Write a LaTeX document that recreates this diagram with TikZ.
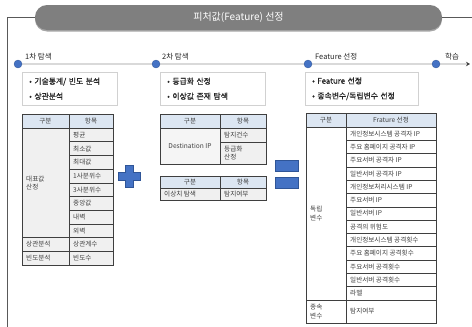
\documentclass[tikz,border=0pt]{standalone}
\usepackage{fontspec}
\setmainfont{Noto Sans CJK KR}
\newfontfamily\medfont[FakeBold=0.6]{Noto Sans CJK KR}
\usetikzlibrary{shadows,arrows.meta}
\definecolor{hdr}{HTML}{DCE6F2}
\definecolor{cellg}{HTML}{F0F0F0}
\definecolor{celll}{HTML}{F5F5F5}
\definecolor{bord}{HTML}{3F3F3F}
\definecolor{txt}{HTML}{404040}
\definecolor{blu}{HTML}{4472C4}
\definecolor{blud}{HTML}{2F5597}
\definecolor{bann}{HTML}{7F7F7F}
\definecolor{tline}{HTML}{D9D9D9}
\definecolor{framec}{HTML}{595959}
\tikzset{
  tcellbox/.style={draw=bord, line width=0.6pt},
  ctxt/.style={font=\fontsize{6.6}{8.2}\selectfont, text=txt, inner sep=0pt, align=left},
  bbox/.style={draw=black!18, fill=white, line width=0.4pt,
    drop shadow={shadow xshift=1.2pt, shadow yshift=-1.2pt, opacity=0.25, fill=black},
    anchor=north west, inner xsep=7pt, inner ysep=0pt, align=left,
    font=\medfont\fontsize{7.8}{15}\selectfont, text=black!85, minimum height=33pt},
  tlabel/.style={font=\fontsize{7.5}{9}\selectfont, text=black!85, anchor=west, inner sep=0pt},
  tdot/.style={circle, fill=blu, draw=blud, line width=0.3pt, minimum size=8pt, inner sep=0pt},
  tl/.style={draw=tline, line width=2pt},
  banner/.style={rounded corners=12pt, fill=bann, text=white, minimum width=407pt,
    minimum height=25pt, font=\fontsize{10}{12}\selectfont,
    drop shadow={shadow xshift=0pt, shadow yshift=-1.5pt, opacity=0.35, fill=black}},
  opbox/.style={fill=blu, draw=blud, line width=0.4pt, inner sep=0pt},
}
\newcommand\TC[7]{%
  \path[tcellbox, fill=#6] (#2,#3) rectangle (#4,#5);
  \node[ctxt, anchor=west] (#1) at ({#2+4},{(#3+#5)/2}) {#7};}
\newcommand\CC[7]{%
  \path[tcellbox, fill=#6] (#2,#3) rectangle (#4,#5);
  \node[ctxt, align=center] (#1) at ({(#2+#4)/2},{(#3+#5)/2}) {#7};}
\begin{document}
\begin{tikzpicture}[x=1pt,y=-1pt]
\useasboundingbox (0,0) rectangle (472,327);
% frame + banner
\node[banner] (ban) at (238.5,17.5) {피처값(Feature) 선정};
\coordinate (fl) at (7,17.5);
\coordinate (fb) at (7,327);
\coordinate (fr) at (472,17.5);
\draw[framec, line width=0.8pt] (ban.west) -- (fl) -- (fb);
\draw[framec, line width=0.8pt] (ban.east) -- (fr);
% timeline
\coordinate (tend) at (470,64);
\coordinate (d1) at (18,64);
\coordinate (d2) at (156,64);
\coordinate (d3) at (308,64);
\coordinate (d4) at (436,64);
\draw[tl] (d1) -- (d2);
\draw[tl] (d2) -- (d3);
\draw[tl] (d3) -- (d4);
\draw[tl, -{Stealth[length=4pt,width=4.5pt,color=black!75]}] (d4) -- (tend);
\node[tdot] (n1) at (d1) {};
\node[tdot] (n2) at (d2) {};
\node[tdot] (n3) at (d3) {};
\node[tdot] (n4) at (d4) {};
\node[tlabel] (l1) at (25,57) {1차 탐색};
\node[tlabel] (l2) at (162,57) {2차 탐색};
\node[tlabel] (l3) at (315,57) {Feature 선정};
\node[tlabel] (l4) at (445,56.5) {학습};
% bullet boxes
\node[bbox, minimum width=95pt, text width=81pt] (b1) at (22,72) {• 기술통계/ 빈도 분석\\• 상관분석};
\node[bbox, minimum width=105pt, text width=91pt] (b2) at (160,72) {• 등급화 산정\\• 이상값 존재 탐색};
\node[bbox, minimum width=113pt, text width=99pt] (b3) at (305,72) {• Feature 선정\\• 종속변수/독립변수 선정};
% table 1
\CC{t1h1}{22}{114}{69}{128}{hdr}{구분}
\CC{t1h2}{69}{114}{113}{128}{hdr}{항목}
\TC{t1a}{22}{128}{69}{237.6}{cellg}{대표값\\산정}
\TC{t1b}{22}{237.6}{69}{251.3}{cellg}{상관분석}
\TC{t1c}{22}{251.3}{69}{265}{cellg}{빈도분석}
\foreach \t [count=\i] in {평균,최소값,최대값,1사분위수,3사분위수,중앙값,내벽,외벽,상관계수,빈도수}{%
  \pgfmathsetmacro\ya{128+(\i-1)*13.7}%
  \pgfmathsetmacro\yb{128+\i*13.7}%
  \TC{t1r\i}{69}{\ya}{113}{\yb}{cellg}{\t}}
% plus
\fill[blu, draw=blud, line width=0.4pt]
  (125,165) -- (133,165) -- (133,172) -- (140,172) -- (140,180) -- (133,180)
  -- (133,187) -- (125,187) -- (125,180) -- (118,180) -- (118,172) -- (125,172) -- cycle;
% table 2
\CC{t2h1}{160}{114}{220}{128}{hdr}{구분}
\CC{t2h2}{220}{114}{266}{128}{hdr}{항목}
\CC{t2a}{160}{128}{220}{164}{celll}{Destination IP}
\TC{t2b}{220}{128}{266}{142}{cellg}{탐지건수}
\TC{t2c}{220}{142}{266}{164}{cellg}{등급화\\산정}
% table 3
\CC{t3h1}{160}{176}{220}{188}{hdr}{구분}
\CC{t3h2}{220}{176}{266}{188}{hdr}{항목}
\TC{t3a}{160}{188}{220}{200}{cellg}{이상치 탐색}
\TC{t3b}{220}{188}{266}{200}{cellg}{탐지여부}
% equals
\node[opbox, minimum width=23pt, minimum height=10.5pt] (eq1) at (287,165.5) {};
\node[opbox, minimum width=23pt, minimum height=10.5pt] (eq2) at (287,182.5) {};
% table 4
\CC{t4h1}{306}{113}{346}{127}{hdr}{구분}
\CC{t4h2}{346}{113}{436}{127}{hdr}{Frature 선정}
\TC{t4a}{306}{127}{346}{300}{white}{독립\\변수}
\TC{t4b}{306}{300}{346}{323}{white}{종속\\변수}
\foreach \t [count=\i] in {개인정보시스템 공격자 IP,주요 홈페이지 공격자 IP,주요서버 공격자 IP,일반서버 공격자 IP,개인정보처리시스템 IP,주요서버 IP,일반서버 IP,공격의 위험도,개인정보시스템 공격횟수,주요 홈페이지 공격횟수,주요서버 공격횟수,일반서버 공격횟수,라벨}{%
  \pgfmathsetmacro\ya{127+(\i-1)*13.308}%
  \pgfmathsetmacro\yb{127+\i*13.308}%
  \TC{t4r\i}{346}{\ya}{436}{\yb}{white}{\t}}
\TC{t4z}{346}{300}{436}{323}{white}{탐지여부}
\end{tikzpicture}
\end{document}
